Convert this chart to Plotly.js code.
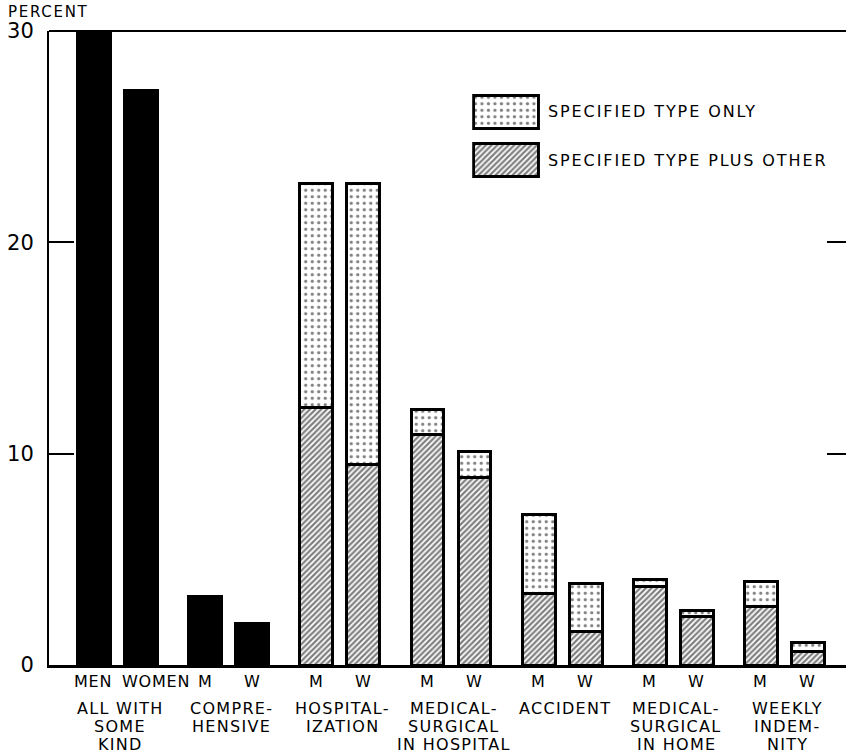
<!DOCTYPE html>
<html>
<head>
<meta charset="utf-8">
<script src="https://cdn.plot.ly/plotly-3.0.1.min.js"></script>
<style>html,body{margin:0;padding:0;background:#fff;}#chart{width:846px;height:754px;}</style>
</head>
<body>
<div id="chart"></div>
<script>
// ---- data ----
const barLabels = ["MEN", "WOMEN", "M", "W", "M", "W", "M", "W", "M", "W", "M", "W", "M", "W"];
const groupLabels = [
  ["ALL WITH", "SOME", "KIND"],
  ["COMPRE-", "HENSIVE"],
  ["HOSPITAL-", "IZATION"],
  ["MEDICAL-", "SURGICAL", "IN HOSPITAL"],
  ["ACCIDENT"],
  ["MEDICAL-", "SURGICAL", "IN HOME"],
  ["WEEKLY", "INDEM-", "NITY"]
];
// solid black bars: all with some kind (men, women), comprehensive (M, W)
const solidValues = [30.0, 27.2, 3.25, 1.95];
// patterned bars: hospitalization, med-surg in hospital, accident, med-surg in home, weekly indemnity (M, W each)
const plusOtherValues = [12.2, 9.5, 10.9, 8.85, 3.4, 1.6, 3.7, 2.3, 2.75, 0.65];
const onlyValues = [10.6, 13.3, 1.2, 1.25, 3.7, 2.25, 0.35, 0.3, 1.2, 0.4];
const legendNames = ["SPECIFIED TYPE ONLY", "SPECIFIED TYPE PLUS OTHER"];
const yTicks = [0, 10, 20, 30];

// ---- layout helpers ----
const FONT = "DejaVu Sans, Verdana, sans-serif";
const GROUP_STEP = 2.365;
const BAR_W = 0.70;
const pos = barLabels.map((_, i) => Math.floor(i / 2) * GROUP_STEP + (i % 2));
const solidX = pos.slice(0, solidValues.length);
const patX = pos.slice(solidValues.length);
const ls = (t, s) => '<span style="letter-spacing:' + s + 'px">' + t + '</span>';

const outline = {color: "#000", width: 3};
const dotPattern = {shape: ".", fgcolor: "#000", bgcolor: "#fff", size: 6.5, solidity: 0.2, fillmode: "overlay"};
const hatchPattern = {shape: "/", fgcolor: "#000", bgcolor: "#fff", size: 4, solidity: 0.55, fillmode: "overlay"};

const traces = [
  {type: "bar", x: solidX, y: solidValues, width: BAR_W, marker: {color: "#000", line: outline},
   showlegend: false, hoverinfo: "skip"},
  {type: "bar", x: patX, y: plusOtherValues, width: BAR_W, name: legendNames[1],
   marker: {color: "#fff", pattern: hatchPattern, line: outline}, showlegend: false, hoverinfo: "skip"},
  {type: "bar", x: patX, y: onlyValues, width: BAR_W, name: legendNames[0],
   marker: {color: "#fff", pattern: dotPattern, line: outline}, showlegend: false, hoverinfo: "skip"},
  // legend swatches, each filling its own small box
  {type: "bar", x: [0], y: [1], width: [1], xaxis: "x2", yaxis: "y2",
   marker: {color: "#fff", pattern: dotPattern, line: outline}, showlegend: false, hoverinfo: "skip"},
  {type: "bar", x: [0], y: [1], width: [1], xaxis: "x3", yaxis: "y3",
   marker: {color: "#fff", pattern: hatchPattern, line: outline}, showlegend: false, hoverinfo: "skip"},
  // empty trace so the right-hand tick axis is drawn
  {type: "scatter", mode: "markers", x: [], y: [], yaxis: "y4", showlegend: false, hoverinfo: "skip"}
];

const annotations = [];
// per-bar labels (the "WOMEN" label sits a little right of its bar in the original)
barLabels.forEach((t, i) => {
  annotations.push({
    text: ls(t, 0.8), x: pos[i], xref: "x", y: 0, yref: "paper",
    xanchor: "center", yanchor: "middle", xshift: t === "WOMEN" ? 15 : (t === "MEN" ? -1 : 0),
    yshift: -16, showarrow: false, font: {family: FONT, size: 16, color: "#000"}
  });
});
groupLabels.forEach((lines, g) => {
  lines.forEach((t, k) => {
    annotations.push({
      text: ls(t, 1.3), x: g * GROUP_STEP + 0.5, xref: "x", y: 0, yref: "paper",
      xanchor: "center", yanchor: "middle", xshift: 3, yshift: -43 - k * 18,
      showarrow: false, font: {family: FONT, size: 16, color: "#000"}
    });
  });
});
annotations.push({text: ls("PERCENT", 1.7), x: 0, xref: "paper", y: 1, yref: "paper",
  xanchor: "left", yanchor: "middle", xshift: -43, yshift: 19, showarrow: false,
  font: {family: FONT, size: 15, color: "#000"}});
const legendBoxCenters = [(0.844 + 0.9006) / 2, (0.768 + 0.825) / 2];
legendNames.forEach((n, k) => {
  annotations.push({text: ls(n, 1.9), x: 0.624, xref: "paper", y: legendBoxCenters[k], yref: "paper",
    xanchor: "left", yanchor: "middle", showarrow: false,
    font: {family: FONT, size: 16, color: "#000"}});
});

const layout = {
  width: 846, height: 754,
  margin: {l: 49, r: 0, t: 31, b: 89},
  paper_bgcolor: "#fff", plot_bgcolor: "#fff",
  barmode: "stack", bargap: 0,
  showlegend: false,
  font: {family: FONT, color: "#000"},
  xaxis: {range: [-0.957, 16.0], showgrid: false, zeroline: false, showline: true,
    linecolor: "#000", linewidth: 3, showticklabels: false, ticks: "", fixedrange: true},
  yaxis: {range: [0, 30], showgrid: false, zeroline: false, showline: true,
    linecolor: "#000", linewidth: 2, tickvals: yTicks, ticks: "inside", ticklen: 25,
    tickwidth: 2, tickcolor: "#000", tickfont: {family: FONT, size: 21, color: "#000"},
    ticklabelstandoff: 9, fixedrange: true},
  yaxis4: {overlaying: "y", side: "right", anchor: "x", range: [0, 30], tickvals: [10, 20],
    ticks: "inside", ticklen: 19, tickwidth: 2, tickcolor: "#000", showticklabels: false,
    showline: false, showgrid: false, zeroline: false, fixedrange: true},
  xaxis2: {domain: [0.531, 0.616], anchor: "y2", range: [-0.52, 0.52], visible: false, fixedrange: true},
  yaxis2: {domain: [0.844, 0.9006], anchor: "x2", range: [-0.04, 1.04], visible: false, fixedrange: true},
  xaxis3: {domain: [0.531, 0.616], anchor: "y3", range: [-0.52, 0.52], visible: false, fixedrange: true},
  yaxis3: {domain: [0.768, 0.825], anchor: "x3", range: [-0.04, 1.04], visible: false, fixedrange: true},
  shapes: [{type: "line", xref: "paper", yref: "paper", x0: 0, x1: 1, y0: 1, y1: 1,
    line: {color: "#000", width: 2}}],
  annotations: annotations
};

Plotly.newPlot("chart", traces, layout, {displayModeBar: false, staticPlot: true});
</script>
</body>
</html>
